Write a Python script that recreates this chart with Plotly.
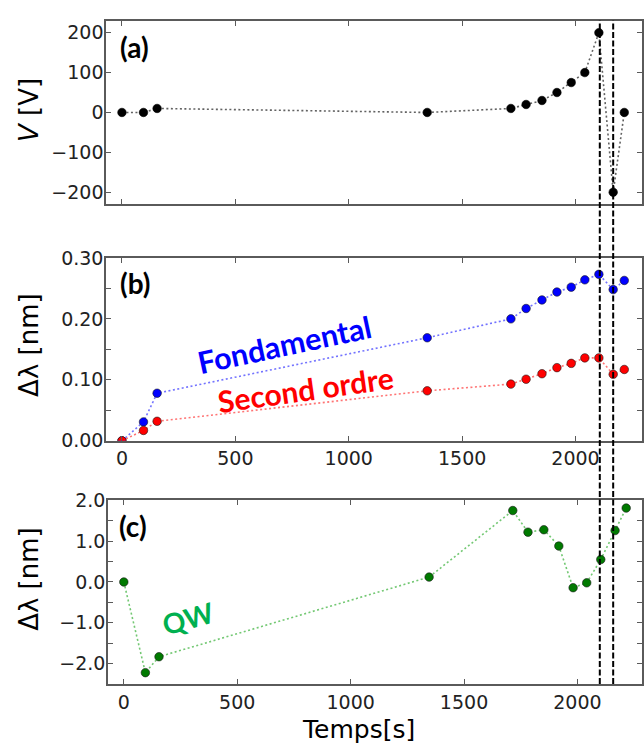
import plotly.graph_objects as go

# Acquisition times (s)
temps = [0, 95, 155, 1346, 1715, 1782, 1852, 1918, 1981, 2041, 2103, 2166, 2215]
# (a) applied voltage (V)
tension = [0, 0, 10, 0, 10, 20, 30, 50, 75, 100, 200, -200, 0]
# (b) wavelength shift of the two harmonics (nm)
fondamental = [0.0, 0.031, 0.078, 0.169, 0.200, 0.217, 0.231, 0.244, 0.252, 0.264, 0.273, 0.248, 0.263]
second_ordre = [0.0, 0.017, 0.032, 0.082, 0.093, 0.101, 0.110, 0.120, 0.127, 0.136, 0.136, 0.109, 0.117]
# (c) quantum-well emission shift (nm)
qw = [0.0, -2.22, -1.83, 0.12, 1.75, 1.22, 1.28, 0.88, -0.14, -0.02, 0.55, 1.26, 1.81]
# switching instants, marked across all panels
instants = [2107, 2166]

x_ticks = [0, 500, 1000, 1500, 2000]
v_ticks = [-200, -100, 0, 100, 200]
b_ticks = [0.0, 0.05, 0.10, 0.15, 0.20, 0.25, 0.30]
b_labels = ["0.00", "", "0.10", "", "0.20", "", "0.30"]
c_ticks = [-2.5, -2.0, -1.5, -1.0, -0.5, 0.0, 0.5, 1.0, 1.5, 2.0]
c_labels = ["", "\u22122.0", "", "\u22121.0", "", "0.0", "", "1.0", "", "2.0"]

# ---- page geometry (pixels) ----
W, H = 644, 755
PX_PER_S = 0.2275
X0 = -70
rows = {  # top, bottom, left edge of each plotting box
    "a": (10, 199, 106.4),
    "b": (254.3, 442.7, 106.4),
    "c": (504, 693.3, 108.3),
}

def ydom(top, bottom):
    return [1 - bottom / H, 1 - top / H]

def xrange_for(left):
    return [X0, X0 + (W - left) / PX_PER_S]

SPINE = "#5a5a5a"
TICKFONT = dict(family="DejaVu Sans", size=19, color="#222222")
DOT = "2px,2.5px"

fig = go.Figure()

def add_series(x, y, xa, ya, line_color, marker_color, edge):
    fig.add_trace(go.Scatter(
        x=x, y=y, xaxis=xa, yaxis=ya, mode="lines+markers",
        line=dict(color=line_color, width=1.6, dash=DOT),
        marker=dict(size=8.5, color=marker_color, line=dict(color=edge, width=0.6)),
        showlegend=False, hoverinfo="skip"))

add_series(temps, tension, "x", "y", "rgba(70,70,70,0.85)", "black", "black")
add_series(temps, fondamental, "x2", "y2", "rgba(40,40,255,0.65)", "#0000ff", "#1a1a1a")
add_series(temps, second_ordre, "x2", "y2", "rgba(255,40,40,0.65)", "#ff0000", "#1a1a1a")
add_series(temps, qw, "x3", "y3", "rgba(40,170,40,0.65)", "#007a00", "#1a1a1a")

common_axis = dict(showline=True, linecolor=SPINE, linewidth=1.6, mirror="ticks",
                   ticks="inside", ticklen=5, tickwidth=1, tickcolor=SPINE,
                   showgrid=False, zeroline=False, tickfont=TICKFONT)
y_extra = dict(ticklabelstandoff=-3)

ta, ba, la = rows["a"]
tb, bb, lb = rows["b"]
tc, bc, lc = rows["c"]

fig.update_layout(
    width=W, height=H, autosize=False,
    margin=dict(l=0, r=0, t=0, b=0),
    paper_bgcolor="white", plot_bgcolor="white",
    xaxis=dict(domain=[la / W, 1], range=xrange_for(la), anchor="y",
               tickvals=x_ticks, showticklabels=False, **common_axis),
    yaxis=dict(domain=ydom(ta, ba), range=[-230, 230], anchor="x",
               tickvals=v_ticks, **common_axis, **y_extra),
    xaxis2=dict(domain=[lb / W, 1], range=xrange_for(lb), anchor="y2",
                tickvals=x_ticks, **common_axis),
    yaxis2=dict(domain=ydom(tb, bb), range=[0, 0.30], anchor="x2",
                tickvals=b_ticks, ticktext=b_labels, **common_axis, **y_extra),
    xaxis3=dict(domain=[lc / W, 1], range=xrange_for(lc), anchor="y3",
                tickvals=x_ticks, **common_axis),
    yaxis3=dict(domain=ydom(tc, bc), range=[-2.5, 2.0], anchor="x3",
                tickvals=c_ticks, ticktext=c_labels, **common_axis, **y_extra),
)

# dashed markers spanning the three panels
for t in instants:
    fig.add_shape(type="line", xref="x", yref="paper",
                  x0=t, x1=t, y0=1 - bc / H, y1=1 - ta / H,
                  line=dict(color="black", width=2, dash="6px,2.5px"))

def ann(text, x, y, size, color="black", family="DejaVu Sans", angle=0):
    fig.add_annotation(text=text, xref="paper", yref="paper",
                       x=x / W, y=1 - y / H, xanchor="center", yanchor="middle",
                       showarrow=False, textangle=angle,
                       font=dict(family=family, size=size, color=color))

# axis titles
ann("<i>V</i> [V]", 29, 102, 26, angle=-90)
ann("\u0394\u03bb [nm]", 29, 344, 26, angle=-90)
ann("\u0394\u03bb [nm]", 29, 585, 26, angle=-90)
ann("Temps[s]", 360, 740, 25)

# panel tags
ann("<b>(a)</b>", 135, 37.5, 28, family="Lato")
ann("<b>(b)</b>", 135, 280.5, 28, family="Lato")
ann("<b>(c)</b>", 133, 530.5, 28, family="Lato")

# series labels
ann("<b>Fondamental</b>", 285.5, 343, 30.5, color="#0000ff", family="Lato", angle=-12)
ann("<b>Second ordre</b>", 306, 389, 30, color="#ff0000", family="Lato", angle=-8)
ann("<b>QW</b>", 189, 625, 28, color="#00b050", family="Lato", angle=-16)

fig.write_html("out.html")
